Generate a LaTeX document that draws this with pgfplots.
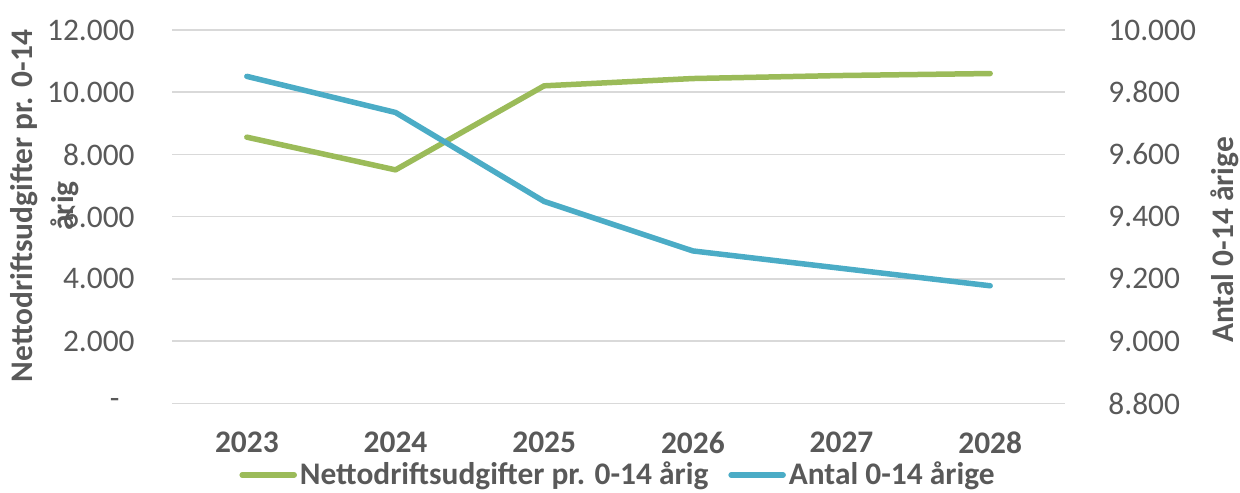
\documentclass[border=0pt]{standalone}
\usepackage{fontspec}
\setmainfont{Carlito}
\usepackage{pgfplots}
\usepackage{pgfplotstable}
\pgfplotsset{compat=1.18}
\definecolor{cgreen}{HTML}{9BBB59}
\definecolor{cblue}{HTML}{4BACC6}
\definecolor{cgrid}{HTML}{D9D9D9}
\definecolor{ctext}{HTML}{595959}

\pgfplotstableread{
x y
0 8556
1 7505
2 10206
3 10440
4 10537
5 10601
}\nettodata
\pgfplotstableread{
x y
0 9851
1 9735
2 9449
3 9290
4 9234
5 9178
}\antaldata

\newcommand\fs{\fontsize{15.7}{20.5}\selectfont}

\begin{document}
\begin{tikzpicture}
\path[use as bounding box] (-86.25pt,-44.3pt) rectangle (533.75pt,201.7pt);
\pgfplotsset{
 base/.style={
  at={(0pt,0pt)}, anchor=south west, scale only axis, width=446pt, height=186.7pt,
  xmin=-0.5, xmax=5.5, axis line style={draw=none}, major tick length=0pt, tick style={draw=none},
  ticklabel style={font=\fs, text=ctext, inner sep=0pt},
  scaled y ticks=false, scaled x ticks=false,
  /pgf/number format/assume math mode=true,
  clip=false,
 }
}
\begin{axis}[base,
 ymin=0, ymax=12000, ytick={0,2000,...,12000},
 yticklabels={-\rule{7.5pt}{0pt},2.000,4.000,6.000,8.000,10.000,12.000},
 ymajorgrids, grid style={cgrid, line width=0.75pt},
 xtick={0,...,5}, xticklabels={2023,2024,2025,2026,2027,2028},
 xticklabel style={font=\fs\bfseries, anchor=north, yshift=-14pt},
 yticklabel style={anchor=east, xshift=-18.75pt},
 ylabel={Nettodriftsudgifter pr. 0-14\\årig},
 ylabel style={font=\fs\bfseries, text=ctext, align=center, at={(axis description cs:-0.1435,0.5287)}, anchor=center},
]
\addplot[cgreen, line width=2.75pt, line cap=round, line join=round] table[x=x,y=y] {\nettodata};
\end{axis}
\begin{axis}[base, axis y line*=right, axis x line=none,
 ymin=8800, ymax=10000, ytick={8800,9000,...,10000},
 yticklabels={8.800,9.000,9.200,9.400,9.600,9.800,10.000},
 yticklabel style={anchor=west, xshift=21.75pt},
 ylabel={Antal 0-14 årige},
 ylabel style={font=\fs\bfseries, text=ctext, at={(axis description cs:1.18,0.4376)}, anchor=center},
 legend style={at={(axis description cs:0.5,-0.1917)}, anchor=center, draw=none, fill=none,
   font=\fs\bfseries, text=ctext, inner sep=0pt,
   nodes={inner sep=1.5pt},
   /tikz/every even column/.append style={column sep=8.5pt}},
 legend columns=2,
 legend image code/.code={\draw[#1, line width=2.75pt, line cap=round] (0pt,0pt) -- (26pt,0pt);},
]
\addlegendimage{cgreen}
\addlegendentry{Nettodriftsudgifter pr. 0-14 årig}
\addplot[cblue, line width=2.75pt, line cap=round, line join=round] table[x=x,y=y] {\antaldata};
\addlegendentry{Antal 0-14 årige}
\end{axis}
\end{tikzpicture}
\end{document}
